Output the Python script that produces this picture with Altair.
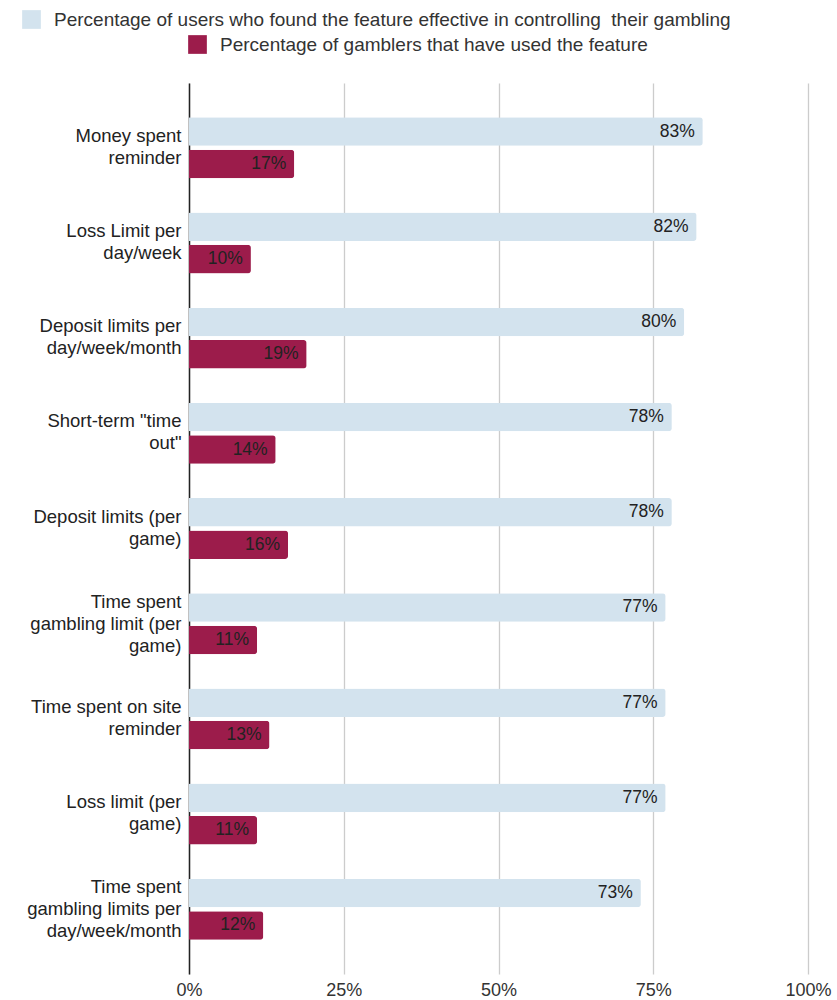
import altair as alt
import pandas as pd

categories = [
    "Money spent|reminder",
    "Loss Limit per|day/week",
    "Deposit limits per|day/week/month",
    "Short-term \"time|out\"",
    "Deposit limits (per|game)",
    "Time spent|gambling limit (per|game)",
    "Time spent on site|reminder",
    "Loss limit (per|game)",
    "Time spent|gambling limits per|day/week/month",
]
effective = [83, 82, 80, 78, 78, 77, 77, 77, 73]
used = [17, 10, 19, 14, 16, 11, 13, 11, 12]

s1 = "Percentage of users who found the feature effective in controlling\u00a0 their gambling"
s2 = "Percentage of gamblers that have used the feature"
series_order = [s1, s2]

rows = []
for c, a, b in zip(categories, effective, used):
    rows.append({"feature": c, "series": s1, "value": a})
    rows.append({"feature": c, "series": s2, "value": b})
df = pd.DataFrame(rows)
df["label"] = df["value"].astype(str) + "%"

FONT = "Liberation Sans"
BLUE = "#d3e3ee"
MAROON = "#9c1c4b"
TXT = "#222222"

three_line = "indexof(datum.value, '|') != lastindexof(datum.value, '|')"

y_enc = alt.Y(
    "feature:N",
    sort=categories,
    scale=alt.Scale(paddingInner=0.36, paddingOuter=0.36),
    axis=alt.Axis(
        title=None,
        labelExpr="split(datum.label, '|')",
        labelFont=FONT,
        labelFontSize=18.5,
        labelColor=TXT,
        labelLineHeight=22,
        labelPadding=8,
        labelOffset={"condition": {"test": three_line, "value": -22}, "value": -12},
        labelLimit=300,
        ticks=False,
        domain=True,
        domainColor="#222222",
        domainWidth=1.5,
        grid=False,
    ),
)
x_enc = alt.X(
    "value:Q",
    scale=alt.Scale(domain=[0, 100]),
    axis=alt.Axis(
        title=None,
        values=[0, 25, 50, 75, 100],
        labelExpr="datum.value + '%'",
        labelFont=FONT,
        labelFontSize=18,
        labelColor="#333333",
        labelPadding=7,
        labelFlush=False,
        ticks=False,
        domain=False,
        grid=True,
        gridColor="#cccccc",
        gridWidth=1.3,
    ),
)
yoff = alt.YOffset("series:N", sort=series_order,
                   scale=alt.Scale(domain=series_order, paddingInner=0.12))

def legend_at(x, y):
    return alt.Legend(
        title=None,
        orient="none",
        legendX=x,
        legendY=y,
        symbolType="square",
        symbolSize=350,
        symbolStrokeWidth=0,
        labelFont=FONT,
        labelFontSize=19,
        labelColor="#333333",
        labelOffset=13,
        labelLimit=800,
        padding=0,
    )

base = alt.Chart(df)

bars1 = base.transform_filter(alt.datum.series == s1).mark_bar(cornerRadiusEnd=3).encode(
    x=x_enc, y=y_enc, yOffset=yoff,
    color=alt.Color("series:N", scale=alt.Scale(domain=[s1], range=[BLUE]),
                    legend=legend_at(-167, -73)),
)
bars2 = base.transform_filter(alt.datum.series == s2).mark_bar(cornerRadiusEnd=3).encode(
    x=x_enc, y=y_enc, yOffset=yoff,
    fill=alt.Fill("series:N", scale=alt.Scale(domain=[s2], range=[MAROON]),
                  legend=legend_at(-1, -48)),
)
texts = base.mark_text(align="right", baseline="middle", dx=-8, font=FONT,
                       fontSize=17.5, color=TXT).encode(
    x=x_enc, y=y_enc, yOffset=yoff, text="label:N",
)

chart = alt.layer(bars1, bars2, texts).resolve_scale(
    color="independent", fill="independent"
).properties(
    width=619,
    height=891,
    autosize=alt.AutoSizeParams(type="none"),
    padding={"left": 189, "top": 83, "right": 29, "bottom": 26},
).configure_view(stroke=None)

chart.save("out.html", embed_options={"renderer": "svg", "actions": False})
